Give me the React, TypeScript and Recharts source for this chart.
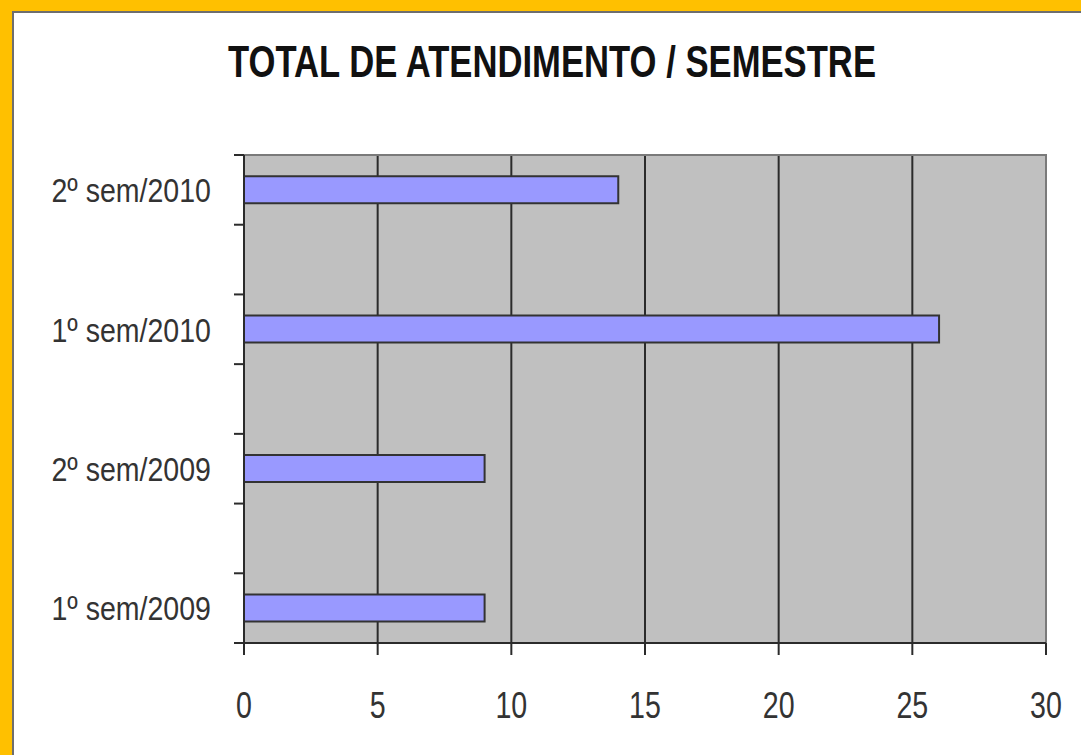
import React from "react";
import {
  BarChart,
  Bar,
  XAxis,
  YAxis,
  CartesianGrid,
  ReferenceArea,
} from "recharts";

// semesters, bottom to top as in the original sheet
const semesters = ["1º sem/2009", "2º sem/2009", "1º sem/2010", "2º sem/2010"];
const atendimentos = [9, 9, 26, 14];
const xTicks = [0, 5, 10, 15, 20, 25, 30];

const TITLE = "TOTAL DE ATENDIMENTO / SEMESTRE";
const FONT = "'Liberation Sans', Arial, sans-serif";
const INK = "#2b2b2b";
const NARROW = 0.84; // fake "Arial Narrow" by squeezing glyphs

// each semester sits in every other slot of a 7-slot axis (blank rows between)
const data = semesters.map((name, i) => ({
  name,
  slot: i * 2 + 0.5,
  value: atendimentos[i],
}));

const slotTicks = [0, 0.5, 1, 2, 2.5, 3, 4, 4.5, 5, 6, 6.5, 7];
const Y_TICK_SIZE = 10;
const Y_TICK_MARGIN = 23;

const SlotTick = ({ x, y, payload }: any) => {
  const v = payload.value;
  if (Number.isInteger(v)) {
    // tick mark just left of the axis line
    const ax = x + Y_TICK_MARGIN;
    return <line x1={ax} x2={ax + Y_TICK_SIZE} y1={y} y2={y} stroke={INK} strokeWidth={2} />;
  }
  const row = data.find((d) => d.slot === v);
  return (
    <text
      transform={`translate(${x},${y}) scale(${NARROW},1)`}
      dy="0.36em"
      textAnchor="end"
      fill="#333"
      fontFamily={FONT}
      fontSize={34}
    >
      {row ? row.name : ""}
    </text>
  );
};

const ValueTick = ({ x, y, payload }: any) => (
  <text
    transform={`translate(${x},${y}) scale(${NARROW * 0.92},1)`}
    dy="0.71em"
    textAnchor="middle"
    fill="#333"
    fontFamily={FONT}
    fontSize={37}
  >
    {payload.value}
  </text>
);

export default function App() {
  return (
    <div
      style={{
        position: "absolute",
        left: 0,
        top: 0,
        width: 1081,
        height: 755,
        overflow: "hidden",
        background: "#FFC000",
      }}
    >
      <div
        style={{
          position: "absolute",
          left: 12,
          top: 11,
          width: 1100,
          height: 780,
          background: "#fff",
          borderLeft: "2px solid #6e6e6e",
          borderTop: "2px solid #6e6e6e",
        }}
      />
      <div style={{ position: "absolute", left: 0, top: 0 }}>
        <BarChart
          width={1081}
          height={755}
          data={data}
          layout="vertical"
          margin={{ top: 155, right: 35, left: 0, bottom: 0 }}
        >
          <text
            x={228}
            y={77}
            fontFamily={FONT}
            fontWeight="bold"
            fontSize={45}
            fill="#111"
            textLength={648}
            lengthAdjust="spacingAndGlyphs"
          >
            {TITLE}
          </text>
          <CartesianGrid
            horizontal={false}
            fill="#C0C0C0"
            stroke={INK}
            strokeWidth={2}
          />
          <ReferenceArea
            x1={0}
            x2={30}
            y1={0}
            y2={7}
            fill="none"
            stroke="#7a7a7a"
            strokeWidth={2}
          />
          <XAxis
            type="number"
            domain={[0, 30]}
            ticks={xTicks}
            interval={0}
            height={112}
            tickSize={12}
            tickMargin={37}
            axisLine={{ stroke: INK, strokeWidth: 2 }}
            tickLine={{ stroke: INK, strokeWidth: 2 }}
            tick={<ValueTick />}
          />
          <YAxis
            type="number"
            dataKey="slot"
            domain={[0, 7]}
            reversed
            ticks={slotTicks}
            interval={0}
            width={244}
            tickSize={Y_TICK_SIZE}
            tickMargin={Y_TICK_MARGIN}
            tickLine={false}
            axisLine={{ stroke: INK, strokeWidth: 2 }}
            tick={<SlotTick />}
          />
          <Bar
            dataKey="value"
            barSize={27}
            fill="#9999FF"
            stroke="#333"
            strokeWidth={2}
            isAnimationActive={false}
          />
        </BarChart>
      </div>
    </div>
  );
}
